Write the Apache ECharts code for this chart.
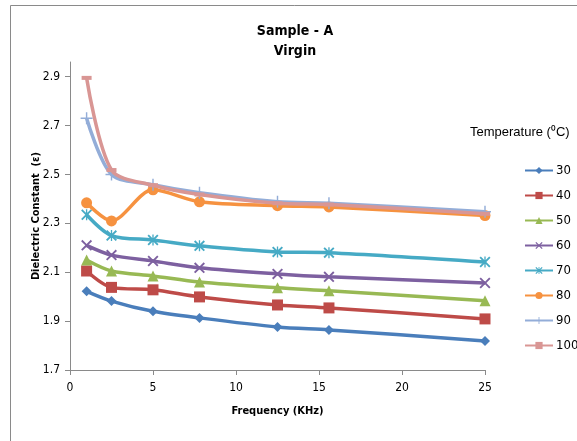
<!DOCTYPE html>
<html><head><meta charset="utf-8">
<script src="https://cdn.jsdelivr.net/npm/echarts@6/dist/echarts.min.js"></script>
<style>html,body{margin:0;padding:0;background:#fff}#c{width:577px;height:441px}</style>
</head><body><div id="c"></div>
<script>
const freq = [1, 2.5, 5, 7.8, 12.5, 15.6, 25];
const temps = ['30','40','50','60','70','80','90','100'];
const s30  = [2.022, 1.982, 1.940, 1.913, 1.876, 1.864, 1.819];
const s40  = [2.105, 2.038, 2.028, 1.999, 1.966, 1.954, 1.909];
const s50  = [2.150, 2.105, 2.085, 2.060, 2.036, 2.024, 1.983];
const s60  = [2.210, 2.170, 2.146, 2.118, 2.093, 2.081, 2.056];
const s70  = [2.335, 2.250, 2.232, 2.208, 2.183, 2.180, 2.142];
const s80  = [2.384, 2.310, 2.437, 2.388, 2.372, 2.367, 2.332];
const s90  = [2.730, 2.500, 2.458, 2.425, 2.388, 2.382, 2.347];
const s100 = [2.895, 2.518, 2.456, 2.418, 2.382, 2.377, 2.339];
const yTicks = [1.7, 1.9, 2.1, 2.3, 2.5, 2.7, 2.9];
const xTicks = [0, 5, 10, 15, 20, 25];

const seriesVals = [s30, s40, s50, s60, s70, s80, s90, s100];
const colors = ['#4A7EBB','#BE4B48','#98B954','#7D60A0','#46AAC5','#F69240','#93ADD8','#D99694'];
const X = 'path://M0,1.2L1.2,0L5,3.8L8.8,0L10,1.2L6.2,5L10,8.8L8.8,10L5,6.2L1.2,10L0,8.8L3.8,5Z';
const AST = 'path://M0,1.2L1.2,0L5,3.8L8.8,0L10,1.2L6.2,5L10,8.8L8.8,10L5,6.2L1.2,10L0,8.8L3.8,5ZM4.4,0L5.6,0L5.6,10L4.4,10Z';
const PLUS = 'path://M4.4,0H5.6V4.4H10V5.6H5.6V10H4.4V5.6H0V4.4H4.4Z';
const DASH = 'rect';
const symbols = ['diamond','rect','triangle',X,AST,'circle',PLUS,DASH];
const sizes = [10, 11, 11, 11, 11, 11, 12, [10, 4]];

const font = "'Liberation Sans Narrow','DejaVu Sans Condensed','Liberation Sans',sans-serif";

const series = temps.map((t, i) => ({
  name: t,
  type: 'line',
  smooth: 0.3,
  data: freq.map((f, j) => [f, seriesVals[i][j]]),
  symbol: symbols[i],
  symbolSize: sizes[i],
  lineStyle: { width: 3.5, color: colors[i] },
  itemStyle: { color: colors[i] },
  z: 2 + i
}));

const chart = echarts.init(document.getElementById('c'), null, {renderer: 'canvas'});
chart.setOption({
  animation: false,
  backgroundColor: '#fff',
  textStyle: { fontFamily: font },
  title: {
    text: 'Sample - A\nVirgin',
    left: 290, top: 16, textAlign: 'center',
    textStyle: { fontSize: 14, fontWeight: 'bold', color: '#000', lineHeight: 20, fontFamily: font }
  },
  graphic: [
    { type: 'rect', shape: { x: 10.5, y: 5.5, width: 700, height: 600 }, style: { fill: 'none', stroke: '#8a8a8a', lineWidth: 1 }, silent: true },
    { type: 'text', left: 470, top: 126, style: { text: 'Temperature (\u2070C)', fontSize: 13, fill: '#000', font: "13px " + font } }
  ],
  legend: {
    orient: 'vertical', left: 519, top: 159,
    itemWidth: 28, itemHeight: 9, itemGap: 12,
    textStyle: { fontSize: 13, color: '#000', fontFamily: font, padding: [0,0,0,-2] },
    data: temps
  },
  grid: { left: 70, right: 92, top: 62, bottom: 71 },
  xAxis: {
    type: 'value', min: 0, max: 25, interval: 5,
    name: 'Frequency (KHz)', nameLocation: 'middle', nameGap: 36,
    nameTextStyle: { fontSize: 11, fontWeight: 'bold', color: '#000', fontFamily: font },
    axisLine: { lineStyle: { color: '#8a8a8a', width: 1 } },
    axisTick: { show: true, length: 5, lineStyle: { color: '#8a8a8a' }, customValues: xTicks },
    axisLabel: { fontSize: 12, color: '#000', margin: 12, customValues: xTicks },
    splitLine: { show: false }
  },
  yAxis: {
    type: 'value', min: 1.7, max: 2.96,
    name: 'Dielectric Constant  (\u03b5)', nameLocation: 'middle', nameGap: 28, nameRotate: 90,
    nameMoveOverlap: false,
    nameTextStyle: { fontSize: 11, fontWeight: 'bold', color: '#000', fontFamily: font },
    axisLine: { show: true, lineStyle: { color: '#8a8a8a', width: 1 } },
    axisTick: { show: true, length: 5, lineStyle: { color: '#8a8a8a' }, customValues: yTicks },
    axisLabel: { fontSize: 12, color: '#000', margin: 10, customValues: yTicks, formatter: v => v.toFixed(1) },
    splitLine: { show: false }
  },
  series: series
});
</script></body></html>
